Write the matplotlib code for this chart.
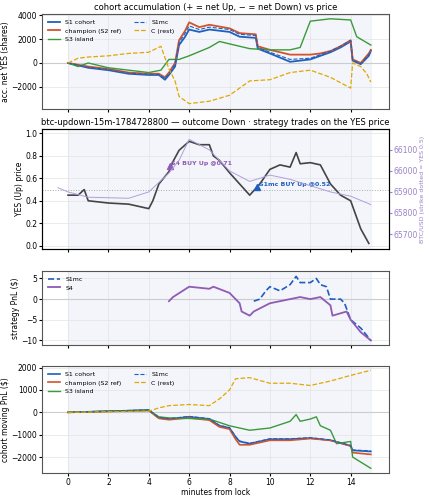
import numpy as np
import matplotlib.pyplot as plt

# === данные (минуты от lock, значения) ===
t_s1 = [0, 0.5, 1, 2, 3, 4, 4.5, 4.8, 5, 5.3, 5.5, 5.8, 6, 6.5, 7, 8, 8.5, 9.3, 9.4, 10, 11, 12, 12.5, 13, 13.5, 14, 14.1, 14.5, 14.9, 15]
acc_s1 = [0, -200, -400, -600, -900, -1000, -1000, -1400, -1000, -300, 1500, 2200, 2800, 2600, 2800, 2600, 2200, 2100, 1200, 800, 100, 300, 600, 900, 1300, 1800, 200, -100, 600, 1000]
acc_champ = [0, -150, -300, -500, -800, -900, -900, -1200, -800, 0, 1900, 2700, 3400, 3000, 3200, 2900, 2500, 2400, 1400, 1100, 700, 700, 800, 1000, 1400, 1900, 300, 0, 800, 1100]
acc_s1mc = [0, -180, -350, -550, -850, -950, -950, -1300, -900, -100, 1700, 2500, 3100, 2800, 3000, 2800, 2400, 2300, 1300, 900, 300, 400, 700, 1000, 1400, 1900, 250, -50, 700, 1100]
t_s3 = [0, 0.5, 1, 2, 3, 4, 4.6, 5, 5.5, 6, 7, 7.5, 8, 9, 10, 11, 11.5, 12, 13, 14, 14.3, 15]
acc_s3 = [0, -300, 0, -400, -600, -800, -600, 300, 300, 600, 1300, 1800, 1600, 1200, 1100, 1100, 1300, 3500, 3700, 3600, 2200, 1500]
t_c = [0, 0.5, 1, 2, 3, 4, 4.6, 5, 5.3, 5.5, 6, 7, 8, 9, 10, 11, 12, 13, 14, 14.1, 14.5, 14.8, 15]
acc_c = [0, 400, 500, 600, 800, 900, 1400, -500, -1500, -2800, -3400, -3200, -2700, -1500, -1400, -800, -600, -1200, -2100, 0, -300, -900, -1600]

t_yes = [0, 0.5, 0.8, 1, 2, 3, 4, 4.2, 4.5, 5, 5.2, 5.5, 6, 6.5, 7, 7.2, 7.5, 8, 8.5, 9, 9.5, 10, 10.5, 11, 11.3, 11.5, 12, 12.5, 13, 13.5, 14, 14.5, 14.9]
yes_price = [0.45, 0.45, 0.5, 0.4, 0.38, 0.37, 0.33, 0.4, 0.55, 0.66, 0.75, 0.85, 0.93, 0.9, 0.9, 0.8, 0.76, 0.65, 0.55, 0.45, 0.55, 0.68, 0.72, 0.7, 0.83, 0.73, 0.74, 0.72, 0.55, 0.45, 0.4, 0.15, 0.02]
t_btc = [-0.5, 0, 1, 3, 4, 5, 5.5, 6, 7, 8, 9, 10, 11, 12, 13, 14, 15]
btc = [65920, 65900, 65875, 65870, 65900, 65990, 66050, 66150, 66100, 66000, 65950, 65980, 65960, 65930, 65900, 65880, 65840]

t_s4 = [5, 5.2, 6, 7, 7.2, 8, 8.5, 8.6, 9, 9.2, 10, 11, 11.5, 12, 12.5, 13, 13.1, 13.8, 14, 14.5, 15]
pnl_s4 = [-0.5, 0.5, 3, 2.5, 3, 1.5, -1, -3, -4, -3, -1, 0, 0.5, 0, 0.5, -1.5, -4, -3, -5, -8, -10]
t_mc = [9.2, 9.5, 9.8, 10, 10.5, 11, 11.3, 11.5, 12, 12.3, 12.5, 12.8, 13, 13.5, 13.7, 14, 14.5, 15]
pnl_mc = [-0.5, 0, 2, 3, 2, 3.5, 5.5, 4, 4, 5, 3.5, 3, 0, 0, -1, -5, -7, -10]

t_m = [0, 4, 4.5, 5, 6, 7, 7.5, 8, 8.3, 8.5, 9, 10, 11, 12, 13, 14, 14.1, 15]
mpnl_s1 = [0, 100, -250, -300, -200, -300, -600, -700, -1100, -1300, -1400, -1200, -1200, -1150, -1250, -1500, -1700, -1750]
mpnl_champ = [0, 80, -270, -330, -250, -350, -650, -750, -1200, -1450, -1450, -1250, -1250, -1170, -1250, -1500, -1800, -1880]
mpnl_s1mc = [0, 110, -230, -280, -180, -280, -580, -680, -1080, -1280, -1380, -1180, -1180, -1130, -1230, -1480, -1680, -1720]
t_m3 = [0, 4, 4.5, 5, 7, 8, 9, 10, 11, 11.3, 11.5, 12, 12.3, 12.5, 13, 13.3, 14, 14.1, 15]
mpnl_s3 = [0, 100, -200, -250, -300, -600, -800, -700, -400, -100, -400, -300, -200, -600, -800, -1400, -1300, -2000, -2500]
t_mc4 = [0, 4, 4.5, 5, 6, 7, 7.5, 8, 8.3, 9, 10, 11, 12, 13, 14, 15]
mpnl_c = [0, 50, 200, 300, 350, 300, 600, 1000, 1500, 1550, 1300, 1300, 1200, 1400, 1650, 1880]

BLUE, RED, GREEN, YEL, PURP = '#1f5fbf', '#d1552c', '#3a9a3a', '#e0a800', '#8e5bb5'
FS = 5.5

fig = plt.figure(figsize=(4.29, 5), dpi=100)
W, H = 429, 500
def box(top, bot):
    return [42 / W, 1 - bot / H, (389 - 42) / W, (bot - top) / H]

ax1 = fig.add_axes(box(14, 109))
ax2 = fig.add_axes(box(129, 249))
ax3 = fig.add_axes(box(271, 345))
ax4 = fig.add_axes(box(366, 473))

for ax in (ax1, ax2, ax3, ax4):
    ax.set_xlim(-1.29, 15.9)
    ax.axvspan(0, 15, color='#eef1f8', alpha=0.7, zorder=0)
    ax.grid(True, color='#e3e3e3', lw=0.5)
    ax.tick_params(labelsize=FS, length=2, pad=1.5)
    for s in ax.spines.values():
        s.set_color('#555')
    ax.set_xticks(range(0, 15, 2))
    if ax is not ax4:
        ax.set_xticklabels([])

# --- панель 1 ---
ax1.axhline(0, color='#ccc', lw=0.8)
ax1.plot(t_s1, acc_s1, color=BLUE, lw=1.3, label='S1 cohort')
ax1.plot(t_s1, acc_champ, color=RED, lw=1.3, label='champion (S2 ref)')
ax1.plot(t_s3, acc_s3, color=GREEN, lw=1.0, label='S3 island')
ax1.plot(t_s1, acc_s1mc, color=BLUE, lw=0.8, ls='--', label='S1mc')
ax1.plot(t_c, acc_c, color=YEL, lw=0.9, ls='--', label='C (rest)')
ax1.set_ylim(-3850, 4100)
ax1.set_ylabel('acc. net YES (shares)', fontsize=FS, labelpad=1)
ax1.set_title('cohort accumulation (+ = net Up, − = net Down) vs price', fontsize=6, pad=3)
ax1.legend(ncol=2, fontsize=4.5, loc='upper left', frameon=False, handlelength=2)

# --- панель 2 ---
ax2.axhline(0.5, color='#aaa', lw=0.7, ls=':')
ax2.plot(t_yes, yes_price, color='#444', lw=1.2)
ax2.set_ylim(-0.03, 1.04)
ax2.set_ylabel('YES (Up) price', fontsize=FS, labelpad=1)
ax2.set_title('btc-updown-15m-1784728800 — outcome Down · strategy trades on the YES price', fontsize=6, pad=3)
ax2r = ax2.twinx()
ax2r.plot(t_btc, btc, color='#b39ddb', lw=0.7)
ax2r.set_ylim(65629, 66199)
ax2r.tick_params(labelsize=FS, length=2, pad=1.5, colors='#9a82c8')
ax2r.set_ylabel('BTC/USD (strike dotted = YES 0.5)', fontsize=4.5, color='#9a82c8', labelpad=1)
ax2.plot([5.05], [0.71], marker='^', color=PURP, ms=5, zorder=5)
ax2.text(5.1, 0.72, 'S4 BUY Up @0.71', fontsize=4.5, color=PURP, fontweight='bold')
ax2.plot([9.35], [0.52], marker='^', color=BLUE, ms=5, zorder=5)
ax2.text(9.45, 0.53, 'S1mc BUY Up @0.52', fontsize=4.5, color=BLUE, fontweight='bold')

# --- панель 3 ---
ax3.axhline(0, color='#ccc', lw=0.8)
ax3.plot(t_mc, pnl_mc, color=BLUE, lw=1.2, ls='--', label='S1mc')
ax3.plot(t_s4, pnl_s4, color=PURP, lw=1.3, label='S4')
ax3.set_ylim(-11.1, 6.8)
ax3.set_yticks([-10, -5, 0, 5])
ax3.set_ylabel('strategy PnL ($)', fontsize=FS, labelpad=1)
ax3.legend(fontsize=4.5, loc='upper left', frameon=False)

# --- панель 4 ---
ax4.axhline(0, color='#ccc', lw=0.8)
ax4.plot(t_m, mpnl_s1, color=BLUE, lw=1.2, label='S1 cohort')
ax4.plot(t_m, mpnl_champ, color=RED, lw=1.2, label='champion (S2 ref)')
ax4.plot(t_m3, mpnl_s3, color=GREEN, lw=1.0, label='S3 island')
ax4.plot(t_m, mpnl_s1mc, color=BLUE, lw=0.8, ls='--', label='S1mc')
ax4.plot(t_mc4, mpnl_c, color=YEL, lw=0.9, ls='--', label='C (rest)')
ax4.set_ylim(-2710, 2070)
ax4.set_ylabel('cohort moving PnL ($)', fontsize=FS, labelpad=1)
ax4.set_xlabel('minutes from lock', fontsize=FS, labelpad=1)
ax4.legend(ncol=2, fontsize=4.5, loc='upper left', frameon=False, handlelength=2)

fig.savefig('out.png', dpi=100)
